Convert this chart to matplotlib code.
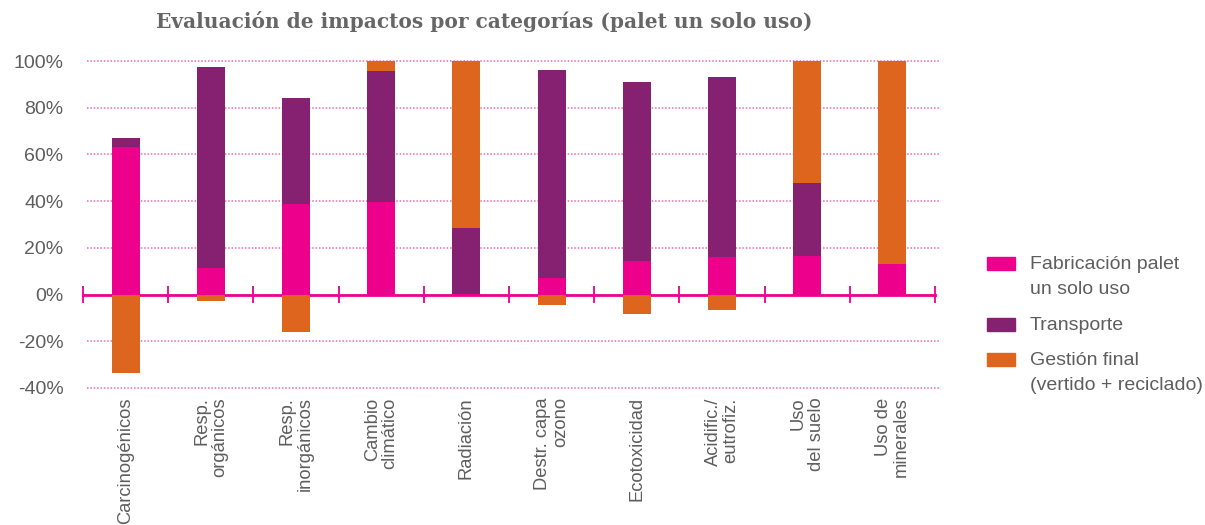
import matplotlib.pyplot as plt
import numpy as np
from matplotlib.patches import Rectangle

plt.rcParams['font.family'] = ['Liberation Sans', 'DejaVu Sans']

# Impact categories and share of each life-cycle stage (%)
categories = ['Carcinogénicos', 'Resp.\norgánicos', 'Resp.\ninorgánicos', 'Cambio\nclimático',
              'Radiación', 'Destr. capa\nozono', 'Ecotoxicidad', 'Acidific./\neutrofiz.',
              'Uso\ndel suelo', 'Uso de\nminerales']
fabricacion = [63.3, 11.2, 38.7, 39.8, 0.4, 7.0, 14.2, 15.9, 16.4, 12.9]
transporte = [3.8, 86.2, 45.5, 55.9, 28.3, 89.2, 76.8, 77.3, 31.5, 0.0]
gestion = [-33.4, -2.7, -16.1, 4.3, 71.3, -4.6, -8.4, -6.7, 52.1, 87.1]

series_names = ['Fabricación palet\nun solo uso', 'Transporte', 'Gestión final\n(vertido + reciclado)']
colors = ['#EC008C', '#862070', '#DD651E']
yticks = [-40, -20, 0, 20, 40, 60, 80, 100]

title = 'Evaluación de impactos por categorías (palet un solo uso)'
text_color = '#5e5e5e'
fs = 14

W, H = 1205, 525
fig = plt.figure(figsize=(W / 100, H / 100), dpi=100)
ax = fig.add_axes([83 / W, (H - 388) / H, 852 / W, 327 / H])

x = np.arange(len(categories))
fab = np.array(fabricacion)
tra = np.array(transporte)
ges = np.array(gestion)
width = 0.33

ax.bar(x, fab, width, color=colors[0], zorder=3)
ax.bar(x, tra, width, bottom=fab, color=colors[1], zorder=3)
ges_bottom = np.where(ges >= 0, fab + tra, 0)
ax.bar(x, ges, width, bottom=ges_bottom, color=colors[2], zorder=3)

# dotted pink gridlines, solid zero axis with crossing ticks
for yv in yticks:
    if yv != 0:
        ax.plot([-0.45, 9.55], [yv, yv], color='#F06AAE', lw=1.1,
                linestyle=(0, (1, 1.2)), zorder=1, clip_on=False)
ax.plot([-0.5, 9.5], [0, 0], color='#EC008C', lw=2, zorder=2, clip_on=False)
bounds = np.arange(len(categories) + 1) - 0.5
ax.vlines(bounds, -3.6, 3.6, color='#EC008C', lw=1.3, zorder=2, clip_on=False)

ax.set_xlim(-0.5, 9.5)
ax.set_ylim(-40, 100)
for s in ax.spines.values():
    s.set_visible(False)

ax.set_yticks(yticks)
ax.set_yticklabels([f'{v}%' for v in yticks])
ax.tick_params(axis='y', length=0, pad=14, labelsize=fs, labelcolor=text_color)
ax.set_xticks([])

for xi, lab in zip(x, categories):
    ax.text(xi, -44, lab, rotation=90, ha='center', va='top', multialignment='right',
            fontsize=13.2, color=text_color, linespacing=1.05)

fig.text(484 / W, 1 - 22 / H, title, ha='center', va='center',
         family='DejaVu Serif', fontweight='bold', fontsize=14.5, color='#666666')

# legend
legend_y = [257, 318, 353]
for name, c, yt in zip(series_names, colors, legend_y):
    fig.add_artist(Rectangle((987 / W, 1 - (yt + 13) / H), 28 / W, 13 / H,
                             color=c, transform=fig.transFigure))
    fig.text(1030 / W, 1 - (yt - 1) / H, name, ha='left', va='top',
             fontsize=fs, color=text_color, linespacing=1.65)

fig.savefig('out.png', dpi=100)
